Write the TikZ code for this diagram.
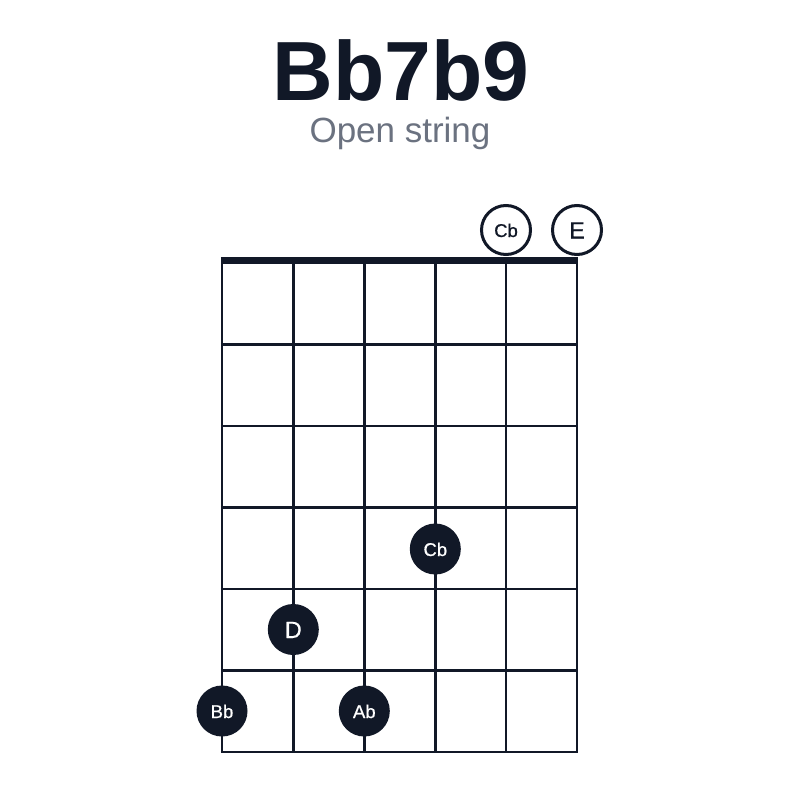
\documentclass[tikz,border=0pt]{standalone}
\usepackage{fontspec}
\setmainfont{Liberation Sans}
\newfontfamily\medfont[FakeBold=0.6]{Liberation Sans}
\definecolor{ink}{HTML}{111827}
\definecolor{subgray}{HTML}{6B7280}
\begin{document}
\begin{tikzpicture}[x=1pt,y=-1pt,
  gridline/.style={draw=ink,line width=2.5pt},
  nutline/.style={draw=ink,line width=7pt},
  fingerdot/.style={circle,fill=ink,minimum size=51pt,inner sep=0pt,text=white},
  opendot/.style={circle,draw=ink,fill=white,line width=3pt,minimum size=49pt,inner sep=0pt,text=ink},
  small/.style={inner sep=0pt,font=\medfont\fontsize{18.5}{18.5}\selectfont},
  big/.style={inner sep=0pt,font=\medfont\fontsize{23.5}{23.5}\selectfont}]
\useasboundingbox[fill=white] (0,0) rectangle (800,800);
% title
\node[anchor=base,inner sep=0pt,text=ink,font=\fontsize{84}{84}\selectfont\bfseries] (title) at (401,100.5) {Bb7b9};
\node[anchor=base,inner sep=0pt,text=subgray,font=\fontsize{35}{35}\selectfont] (subtitle) at (400,142.5) {Open string};
% strings
\foreach \i/\x in {1/222,2/293.3,3/364.3,4/435.3,5/506,6/577}{
  \coordinate (s\i top) at (\x,262);
  \coordinate (s\i bot) at (\x,752);
  \draw[gridline] (s\i top) -- (s\i bot);
}
% frets
\foreach \j/\y in {1/344.6,2/426,3/507.6,4/589,5/670.5,6/752}{
  \coordinate (f\j l) at (220.75,\y);
  \coordinate (f\j r) at (578.25,\y);
  \draw[gridline] (f\j l) -- (f\j r);
}
% nut
\coordinate (nutl) at (220.75,260.5);
\coordinate (nutr) at (578.25,260.5);
\draw[nutline] (nutl) -- (nutr);
% open strings
\node[opendot] (o5) at (506,230) {};
\node[small,text=ink,anchor=base] (o5t) at (506,237) {Cb};
\node[opendot] (o6) at (577,230) {};
\node[big,text=ink,anchor=base] (o6t) at (577,238.5) {E};
% fingered notes
\node[fingerdot] (d4) at (435.3,549) {};
\node[small,text=white,anchor=base] (d4t) at (435.3,556) {Cb};
\node[fingerdot] (d2) at (293.3,629.5) {};
\node[big,text=white,anchor=base] (d2t) at (293.3,638) {D};
\node[fingerdot] (d1) at (222,711) {};
\node[small,text=white,anchor=base] (d1t) at (222,718) {Bb};
\node[fingerdot] (d3) at (364.3,711) {};
\node[small,text=white,anchor=base] (d3t) at (364.3,718) {Ab};
\end{tikzpicture}
\end{document}
